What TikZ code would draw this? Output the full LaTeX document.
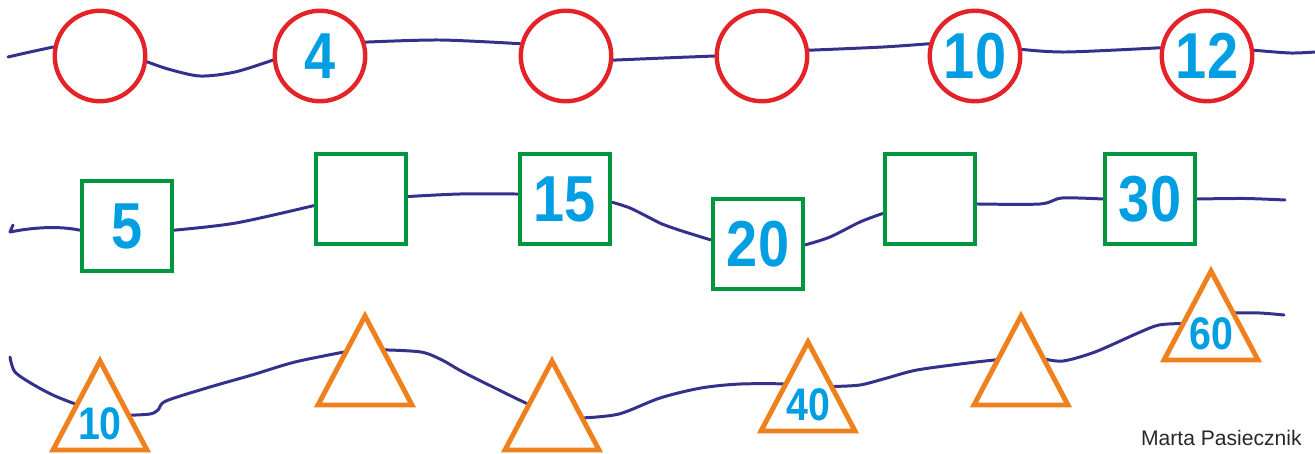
\documentclass[tikz,border=0pt]{standalone}
\usepackage{fontspec}
\setmainfont{Liberation Sans}
\newfontfamily\numfont[FakeStretch=0.86]{Liberation Sans}
\usetikzlibrary{calc,backgrounds}
\definecolor{ringred}{RGB}{227,35,40}
\definecolor{boxgreen}{RGB}{0,150,64}
\definecolor{triorange}{RGB}{239,128,30}
\definecolor{numblue}{RGB}{0,158,226}
\definecolor{waveblue}{RGB}{52,49,140}
\definecolor{signgray}{RGB}{40,40,40}

\begin{document}
\begin{tikzpicture}[x=0.02cm, y=-0.02cm,
	ring/.style = {draw=ringred, line width=2.5pt, circle, fill=white, minimum size=1.81cm, inner sep=0pt, text=numblue, font=\numfont\bfseries\fontsize{37}{37}\selectfont},
	box/.style = {draw=boxgreen, line width=2.8pt, rectangle, fill=white, minimum size=1.8cm, inner sep=0pt, text=numblue, font=\numfont\bfseries\fontsize{37}{37}\selectfont},
	tnum/.style = {text=numblue, inner sep=0pt, font=\numfont\bfseries\fontsize{26}{26}\selectfont},
	wave/.style = {draw=waveblue, line width=1.7pt, line cap=round, line join=round},
	tri/.pic = {
		\draw[draw=triorange, line width=2.8pt, fill=white] (0,-89) coordinate (-apex) -- (-47,0) coordinate (-bl) -- (47,0) coordinate (-br) -- cycle;
		\node[tnum] (-num) at (0,-26) {#1};
	}]
	\useasboundingbox (0,0) rectangle (1315,453);

	% circles
	\node[ring] (c1) at (100,56) {};
	\node[ring] (c2) at (320,56) {4};
	\node[ring] (c3) at (566,56) {};
	\node[ring] (c4) at (762,56) {};
	\node[ring] (c5) at (975,56) {10};
	\node[ring] (c6) at (1207,56) {12};

	% squares
	\node[box] (s1) at (127,226) {5};
	\node[box] (s2) at (361,199) {};
	\node[box] (s3) at (565,199) {15};
	\node[box] (s4) at (758,244) {20};
	\node[box] (s5) at (930,199) {};
	\node[box] (s6) at (1150,199) {30};

	% triangles
	\pic (t1) at (100,450) {tri=10};
	\pic (t2) at (365,405) {tri=};
	\pic (t3) at (552,450) {tri=};
	\pic (t4) at (808,431) {tri=40};
	\pic (t5) at (1021,405) {tri=};
	\pic (t6) at (1211,360) {tri=60};

	\node[font=\fontsize{12}{12}\selectfont, text=signgray, anchor=base east, inner sep=0pt] (sign) at (1302,445) {Marta Pasiecznik};

	% free ends and crossing points
	\coordinate (r1a) at (8,57);
	\coordinate (r1b) at (1315,52);
	\coordinate (r2h) at (13,225);
	\coordinate (r2a) at (10,232);
	\coordinate (r2b) at (1285,200);
	\coordinate (r3a) at (10,357);
	\coordinate (r3b) at (1284,315);
	\coordinate (t1l) at ($(t1-apex)!.49!(t1-bl)$);
	\coordinate (t1r) at ($(t1-apex)!.61!(t1-br)$);
	\coordinate (t2l) at ($(t2-apex)!.40!(t2-bl)$);
	\coordinate (t2r) at ($(t2-apex)!.38!(t2-br)$);
	\coordinate (t3l) at ($(t3-apex)!.49!(t3-bl)$);
	\coordinate (t3r) at ($(t3-apex)!.64!(t3-br)$);
	\coordinate (t4l) at ($(t4-apex)!.47!(t4-bl)$);
	\coordinate (t4r) at ($(t4-apex)!.50!(t4-br)$);
	\coordinate (t5l) at ($(t5-apex)!.49!(t5-bl)$);
	\coordinate (t5r) at ($(t5-apex)!.48!(t5-br)$);
	\coordinate (t6l) at ($(t6-apex)!.59!(t6-bl)$);
	\coordinate (t6r) at ($(t6-apex)!.47!(t6-br)$);

	\begin{scope}[on background layer]
		% row of circles
		\draw[wave] plot[smooth] coordinates {(r1a) (30,52) (c1.169)};
		\draw[wave] plot[smooth] coordinates {(c1.-7) (168,69) (200,76) (235,72) (c2.-175)};
		\draw[wave] plot[smooth] coordinates {(c2.17) (440,40) (c3.165)};
		\draw[wave] plot[smooth] coordinates {(c3.-5) (664,58) (c4.180)};
		\draw[wave] plot[smooth] coordinates {(c4.7) (883,47) (c5.165)};
		\draw[wave] plot[smooth] coordinates {(c5.8) (1066,52) (c6.170)};
		\draw[wave] plot[smooth] coordinates {(c6.7) (1290,53) (r1b)};
		% row of squares
		\draw[wave] (r2h) -- (r2a) .. controls (35,227) and (60,226) .. (s1.-175);
		\draw[wave] plot[smooth] coordinates {(s1.-5) (236,223) (s2.-172)};
		\draw[wave] plot[smooth] coordinates {(s2.3) (460,194) (s3.174)};
		\draw[wave] plot[smooth] coordinates {(s3.-4) (630,208) (650,218) (662,224) (682,231) (s4.175)};
		\draw[wave] plot[smooth] coordinates {(s4.-1) (830,237) (860,222) (s5.-163)};
		\draw[wave] plot[smooth] coordinates {(s5.-6) (1040,204) (1062,198) (s6.180)};
		\draw[wave] plot[smooth] coordinates {(s6.0) (1245,198.5) (r2b)};
		% row of triangles
		\draw[wave] plot[smooth] coordinates {(r3a) (15,372) (34,385) (55,396) (t1l)};
		\draw[wave] plot[smooth] coordinates {(t1r) (150,414) (158,410) (166,401) (210,387) (252,375) (295,362) (t2l)};
		\draw[wave] plot[smooth] coordinates {(t2r) (421,352) (442,360) (463,372) (505,393) (t3l)};
		\draw[wave] plot[smooth] coordinates {(t3r) (619,414) (660,398) (701,388) (740,384) (t4l)};
		\draw[wave] plot[smooth] coordinates {(t4r) (860,385) (887,378) (917,370) (968,363) (t5l)};
		\draw[wave] plot[smooth] coordinates {(t5r) (1063,361) (1095,352) (1138,333) (1159,325) (t6l)};
		\draw[wave] plot[smooth] coordinates {(t6r) (1260,313) (r3b)};
	\end{scope}
\end{tikzpicture}
\end{document}
